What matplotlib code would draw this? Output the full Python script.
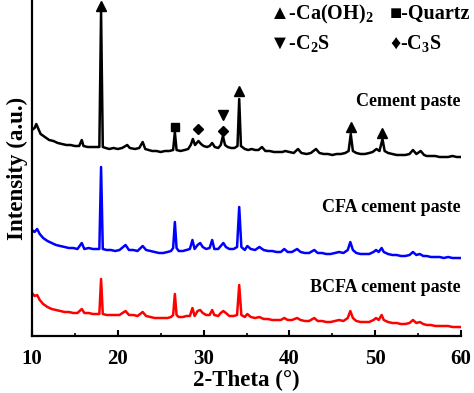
import matplotlib
matplotlib.use("Agg")
import matplotlib.pyplot as plt
from matplotlib.ticker import MultipleLocator

plt.rcParams['font.family'] = ['Liberation Serif', 'DejaVu Serif']
plt.rcParams['font.weight'] = 'bold'
plt.rcParams['mathtext.fontset'] = 'custom'
plt.rcParams['mathtext.rm'] = 'Liberation Serif:bold'
plt.rcParams['mathtext.it'] = 'Liberation Serif:bold'
plt.rcParams['mathtext.bf'] = 'Liberation Serif:bold'

# Cement paste (black), stacked on top
cp_theta = [10.0, 10.3, 10.5, 10.7, 11.0, 11.5, 12.0, 12.5, 13.0, 13.5, 14.0, 14.5, 15.0, 15.5,
            15.8, 16.0, 16.5, 17.0, 17.5, 17.85, 18.05, 18.25, 18.6, 19.0, 19.5, 20.0, 20.5,
            21.1, 21.4, 22.0, 22.5, 22.9, 23.2, 23.6, 24.0, 24.5, 25.0, 25.5, 26.0, 26.45,
            26.65, 26.85, 27.3, 27.8, 28.2, 28.5, 28.75, 29.0, 29.4, 29.7, 30.0, 30.4, 30.7,
            31.0, 31.3, 31.7, 32.0, 32.25, 32.5, 32.8, 33.2, 33.6, 33.95, 34.15, 34.35, 34.8,
            35.2, 35.6, 36.0, 36.4, 36.8, 37.2, 37.7, 38.2, 38.7, 39.2, 39.5, 40.0, 40.5,
            41.0, 41.4, 42.0, 42.5, 43.1, 43.5, 44.0, 44.5, 45.0, 45.5, 46.0, 46.5, 46.9,
            47.15, 47.4, 47.8, 48.3, 48.8, 49.3, 49.7, 50.15, 50.5, 50.85, 51.1, 51.5, 52.0,
            52.5, 53.0, 53.5, 54.0, 54.4, 54.8, 55.3, 55.7, 56.0, 56.5, 57.0, 57.5, 58.0,
            58.5, 59.0, 59.5, 60.0]
cp_int = [206, 208, 212, 208, 202, 199, 196, 195, 193, 192, 191, 191, 190, 190,
          196, 190, 189, 189, 189, 189, 324, 189, 188, 187, 188, 187, 188,
          191, 188, 187, 188, 194, 187, 186, 185, 185, 184, 185, 185, 186,
          204, 186, 185, 186, 187, 191, 197, 191, 195, 192, 190, 189, 190,
          193, 189, 188, 191, 200, 191, 189, 188, 188, 190, 237, 190, 187,
          186, 187, 186, 186, 189, 185, 185, 184, 184, 184, 185, 184, 183,
          187, 183, 182, 183, 187, 183, 182, 182, 181, 182, 182, 183, 185,
          202, 185, 183, 182, 182, 183, 184, 187, 185, 197, 185, 183, 182,
          181, 181, 181, 182, 186, 182, 185, 181, 180, 180, 180, 179, 179,
          179, 180, 179, 179]

# CFA and BCFA cement paste share the same 2-theta readings
fa_theta = [10.0, 10.3, 10.6, 10.9, 11.3, 11.8, 12.3, 12.8, 13.3, 13.8, 14.3, 14.8, 15.3, 15.8,
            16.1, 16.6, 17.1, 17.5, 17.85, 18.05, 18.25, 18.7, 19.2, 19.7, 20.2, 20.9, 21.3,
            21.8, 22.3, 22.9, 23.3, 23.8, 24.3, 24.8, 25.3, 25.8, 26.2, 26.45, 26.65, 26.85,
            27.1, 27.6, 28.0, 28.4, 28.7, 28.95, 29.3, 29.6, 29.9, 30.3, 30.7, 31.0, 31.25,
            31.7, 32.0, 32.3, 32.6, 33.0, 33.5, 33.9, 34.15, 34.4, 34.8, 35.1, 35.5, 36.0,
            36.5, 37.0, 37.5, 38.0, 38.5, 39.0, 39.4, 39.8, 40.3, 40.9, 41.3, 41.8, 42.3,
            42.9, 43.3, 43.8, 44.3, 44.8, 45.3, 45.8, 46.3, 46.8, 47.1, 47.4, 47.8, 48.3,
            48.8, 49.3, 49.8, 50.1, 50.4, 50.75, 51.0, 51.5, 52.0, 52.5, 53.0, 53.5, 54.0,
            54.4, 54.8, 55.2, 55.6, 56.0, 56.5, 57.0, 57.5, 58.0, 58.5, 59.0, 59.5, 60.0]
cfa_int = [106, 104, 107, 102, 98, 95, 93, 91, 90, 89, 88, 88, 87, 93,
           87, 88, 87, 87, 87, 169, 87, 86, 86, 85, 86, 91, 86,
           86, 85, 90, 86, 85, 84, 83, 83, 84, 85, 88, 114, 88,
           85, 85, 86, 87, 96, 87, 91, 93, 89, 87, 88, 96, 87,
           87, 90, 93, 89, 87, 87, 89, 129, 89, 86, 90, 87, 86,
           89, 86, 85, 85, 84, 84, 87, 84, 84, 87, 84, 83, 83,
           86, 83, 83, 82, 82, 83, 84, 83, 86, 94, 86, 83, 82,
           82, 82, 84, 86, 84, 88, 84, 82, 81, 81, 80, 80, 81,
           84, 81, 82, 80, 80, 79, 79, 79, 78, 79, 78, 78, 78]
bcfa_int = [43, 40, 41, 36, 32, 29, 27, 26, 25, 24, 24, 23, 23, 27,
            23, 23, 22, 22, 22, 57, 22, 21, 21, 21, 21, 25, 21,
            21, 20, 24, 20, 19, 18, 18, 18, 18, 19, 21, 42, 21,
            19, 19, 20, 20, 28, 20, 25, 26, 23, 21, 21, 26, 21,
            20, 23, 25, 23, 20, 20, 21, 51, 21, 19, 22, 19, 18,
            19, 17, 17, 16, 16, 16, 18, 16, 16, 18, 16, 15, 15,
            18, 15, 15, 14, 14, 15, 16, 15, 18, 25, 18, 15, 14,
            14, 14, 16, 18, 16, 21, 16, 14, 13, 13, 12, 12, 13,
            16, 13, 14, 12, 11, 11, 10, 10, 10, 10, 9, 9, 9]

# phase markers above the cement paste peaks
ch_theta = [18.05, 34.15, 47.15, 50.85]
ch_int = [330, 245, 209, 203]
quartz_theta = [26.65]
quartz_int = [209]
c2s_theta = [32.25]
c2s_int = [221]
c3s_theta = [29.4, 32.25]
c3s_int = [207, 205]

fig = plt.figure(figsize=(4.74, 3.93), dpi=100)
ax = fig.add_axes([32 / 474, 57 / 393, 429 / 474, 336 / 393])

ax.plot(cp_theta, cp_int, color='black', lw=1.8)
ax.plot(fa_theta, cfa_int, color='#0000ff', lw=1.8)
ax.plot(fa_theta, bcfa_int, color='#ff0000', lw=1.8)

ax.plot(ch_theta, ch_int, '^', color='black', ms=7, clip_on=False)
ax.plot(quartz_theta, quartz_int, 's', color='black', ms=6)
ax.plot(c2s_theta, c2s_int, 'v', color='black', ms=7)
ax.plot(c3s_theta, c3s_int, 'D', color='black', ms=5)

ax.text(59.9, 234, 'Cement paste', ha='right', va='center', fontsize=13, fontweight='bold')
ax.text(59.9, 128, 'CFA cement paste', ha='right', va='center', fontsize=13, fontweight='bold')
ax.text(59.9, 49, 'BCFA cement paste', ha='right', va='center', fontsize=13, fontweight='bold')

fig.text(269 / 474, 1 - 14 / 393, '▲-Ca(OH)$_2$', ha='left', va='center', fontsize=14.5, fontweight='bold')
fig.text(390 / 474, 1 - 14 / 393, '■-Quartz', ha='left', va='center', fontsize=14.5, fontweight='bold')
fig.text(269 / 474, 1 - 44 / 393, '▼-C$_2$S', ha='left', va='center', fontsize=14.5, fontweight='bold')
fig.text(390 / 474, 1 - 44 / 393, '♦-C$_3$S', ha='left', va='center', fontsize=14.5, fontweight='bold')

ax.set_xlim(10, 60)
ax.set_ylim(0, 336)
ax.set_yticks([])
ax.xaxis.set_major_locator(MultipleLocator(10))
ax.xaxis.set_minor_locator(MultipleLocator(5))
ax.tick_params(axis='x', which='major', direction='in', length=4, width=1.5, labelsize=15, pad=9)
ax.tick_params(axis='x', which='minor', direction='in', length=2.5, width=1.2)
for lab in ax.get_xticklabels():
    lab.set_fontweight('bold')

ax.spines['top'].set_visible(False)
ax.spines['right'].set_visible(False)
ax.spines['left'].set_linewidth(1.6)
ax.spines['bottom'].set_linewidth(1.6)

ax.set_xlabel('2-Theta (°)', fontsize=16.5, fontweight='bold', labelpad=1)
ax.set_ylabel('Intensity (a.u.)', fontsize=16.5, fontweight='bold', labelpad=3)

fig.savefig('out.png', dpi=100)
